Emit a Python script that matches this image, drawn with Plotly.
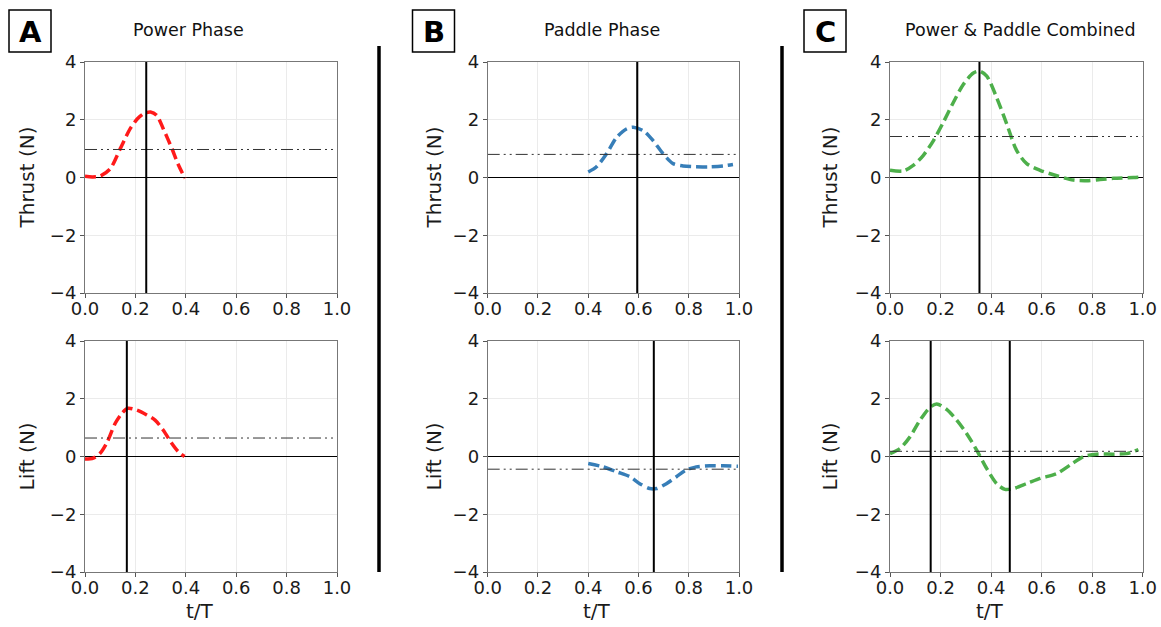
import plotly.graph_objects as go

W, H = 1161, 627

# ---------------- data ----------------
a_thrust_t = [0, 0.03, 0.06, 0.1, 0.14, 0.18, 0.21, 0.235, 0.26, 0.285, 0.31, 0.345, 0.37, 0.397]
a_thrust_v = [0.04, 0.02, 0.05, 0.3, 1.0, 1.7, 2.05, 2.22, 2.27, 2.15, 1.7, 1.0, 0.45, -0.03]
a_lift_t = [0, 0.033, 0.06, 0.086, 0.12, 0.146, 0.17, 0.205, 0.245, 0.278, 0.31, 0.344, 0.37, 0.395]
a_lift_v = [-0.09, -0.06, 0.11, 0.46, 1.15, 1.49, 1.67, 1.61, 1.44, 1.26, 0.92, 0.46, 0.17, 0.0]

b_thrust_t = [0.4, 0.433, 0.473, 0.513, 0.552, 0.579, 0.619, 0.658, 0.698, 0.738, 0.777, 0.83, 0.883, 0.936, 0.976]
b_thrust_v = [0.19, 0.37, 0.82, 1.39, 1.68, 1.74, 1.62, 1.28, 0.82, 0.48, 0.40, 0.37, 0.37, 0.40, 0.45]
b_lift_t = [0.4, 0.46, 0.513, 0.566, 0.605, 0.645, 0.672, 0.711, 0.751, 0.79, 0.83, 0.883, 0.936, 0.996]
b_lift_v = [-0.24, -0.36, -0.53, -0.7, -0.94, -1.11, -1.11, -0.94, -0.7, -0.47, -0.36, -0.32, -0.32, -0.34]

c_thrust_t = [0, 0.053, 0.092, 0.132, 0.172, 0.211, 0.25, 0.29, 0.33, 0.356, 0.383, 0.422, 0.462,
              0.501, 0.541, 0.594, 0.66, 0.726, 0.778, 0.831, 0.884, 0.963, 0.996]
c_thrust_v = [0.25, 0.23, 0.42, 0.77, 1.28, 1.91, 2.59, 3.22, 3.62, 3.68, 3.51, 2.77, 1.85,
              0.94, 0.48, 0.25, 0.06, -0.09, -0.11, -0.07, -0.03, 0.0, 0.02]
c_lift_t = [0, 0.04, 0.079, 0.119, 0.158, 0.185, 0.224, 0.264, 0.303, 0.343, 0.383, 0.422, 0.455,
            0.488, 0.541, 0.594, 0.66, 0.712, 0.765, 0.818, 0.884, 0.937, 0.983]
c_lift_v = [0.1, 0.28, 0.68, 1.26, 1.7, 1.82, 1.63, 1.26, 0.8, 0.22, -0.42, -0.94, -1.14,
            -1.11, -0.94, -0.76, -0.59, -0.3, -0.01, 0.08, 0.08, 0.1, 0.24]

# mean (dash-dot-dot) levels: [thrust, lift] per column
means = {"A": [0.97, 0.64], "B": [0.8, -0.44], "C": [1.42, 0.18]}
# vertical marker positions: [thrust list, lift list] per column
markers = {"A": [[0.243], [0.166]], "B": [[0.595], [0.661]], "C": [[0.354], [0.161, 0.474]]}

panel_letters = ["A", "B", "C"]
panel_titles = ["Power Phase", "Paddle Phase", "Power & Paddle Combined"]
colors = ["#ff1a1a", "#377eb8", "#4daf4a"]
x_ticks = [0.0, 0.2, 0.4, 0.6, 0.8, 1.0]
x_tick_text = ["0.0", "0.2", "0.4", "0.6", "0.8", "1.0"]
y_ticks = [-4, -2, 0, 2, 4]
row_labels = ["Thrust (N)", "Lift (N)"]
x_label = "t/T"

series = {
    "A": [(a_thrust_t, a_thrust_v), (a_lift_t, a_lift_v)],
    "B": [(b_thrust_t, b_thrust_v), (b_lift_t, b_lift_v)],
    "C": [(c_thrust_t, c_thrust_v), (c_lift_t, c_lift_v)],
}

# ---------------- layout geometry (pixels) ----------------
col_px = [(85, 337), (487.7, 739), (890, 1142.7)]
row_px = [(62, 293), (341, 572)]
ytitle_x = [26, 433, 829]
xtitle_x = [200, 597, 990]
letter_cx = [30, 433.5, 825]
title_cx = [188, 602, 1020]


def px_x(p):
    return p / W


def px_y(p):
    return 1 - p / H


fig = go.Figure()
layout = {}
shapes = []
annotations = []

axis_font = dict(family="DejaVu Sans", size=18, color="#1a1a1a")
idx = 0
for ci, letter in enumerate(panel_letters):
    for ri in range(2):
        idx += 1
        xa = "x" if idx == 1 else f"x{idx}"
        ya = "y" if idx == 1 else f"y{idx}"
        xkey = "xaxis" if idx == 1 else f"xaxis{idx}"
        ykey = "yaxis" if idx == 1 else f"yaxis{idx}"
        x0, x1 = col_px[ci]
        y0, y1 = row_px[ri]
        layout[xkey] = dict(
            domain=[px_x(x0), px_x(x1)], range=[0, 1], anchor=ya,
            tickvals=x_ticks, ticktext=x_tick_text, tickfont=axis_font,
            ticks="outside", ticklen=4, tickcolor="#555555", ticklabelstandoff=-5,
            showgrid=True, gridcolor="#ebebeb", gridwidth=1,
            zeroline=False, showline=True, mirror=True, linecolor="#777777", linewidth=1,
            fixedrange=True, automargin=False,
        )
        layout[ykey] = dict(
            domain=[px_y(y1), px_y(y0)], range=[-4, 4], anchor=xa,
            tickvals=y_ticks, tickfont=axis_font,
            ticks="outside", ticklen=4, tickcolor="#555555",
            showgrid=True, gridcolor="#ebebeb", gridwidth=1,
            zeroline=True, zerolinecolor="black", zerolinewidth=1,
            showline=True, mirror=True, linecolor="#777777", linewidth=1,
            fixedrange=True, automargin=False,
        )
        # mean line (dash-dot-dot)
        shapes.append(dict(type="line", xref=xa, yref=ya, x0=0, x1=1,
                           y0=means[letter][ri], y1=means[letter][ri],
                           line=dict(color="#333333", width=1,
                                     dash="12px,4px,2px,4px,2px,4px"), layer="above"))
        # vertical markers
        for mx in markers[letter][ri]:
            shapes.append(dict(type="line", xref=xa, yref=ya, x0=mx, x1=mx, y0=-4, y1=4,
                               line=dict(color="black", width=2), layer="above"))
        t, v = series[letter][ri]
        fig.add_trace(go.Scatter(
            x=t, y=v, mode="lines", xaxis=xa, yaxis=ya, showlegend=False,
            line=dict(color=colors[ci], width=3.5, dash="11px,5px", shape="spline", smoothing=0.8),
        ))
        # y axis title
        annotations.append(dict(text=row_labels[ri], xref="paper", yref="paper",
                                x=px_x(ytitle_x[ci]), y=px_y((y0 + y1) / 2),
                                showarrow=False, textangle=-90,
                                font=dict(family="DejaVu Sans", size=20, color="#1a1a1a"),
                                xanchor="center", yanchor="middle"))
        if ri == 1:
            annotations.append(dict(text=x_label, xref="paper", yref="paper",
                                    x=px_x(xtitle_x[ci]), y=px_y(611),
                                    showarrow=False,
                                    font=dict(family="DejaVu Sans", size=20, color="#1a1a1a"),
                                    xanchor="center", yanchor="middle"))

    # panel letter box
    cx = letter_cx[ci]
    shapes.append(dict(type="rect", xref="paper", yref="paper",
                       x0=px_x(cx - 21), x1=px_x(cx + 21), y0=px_y(52), y1=px_y(10),
                       line=dict(color="black", width=1.5), fillcolor="white"))
    annotations.append(dict(text=f"<b>{letter}</b>", xref="paper", yref="paper",
                            x=px_x(cx), y=px_y(32), showarrow=False,
                            font=dict(family="DejaVu Sans", size=29, color="black"),
                            xanchor="center", yanchor="middle"))
    annotations.append(dict(text=panel_titles[ci], xref="paper", yref="paper",
                            x=px_x(title_cx[ci]), y=px_y(30), showarrow=False,
                            font=dict(family="DejaVu Sans", size=17.5, color="#111111"),
                            xanchor="center", yanchor="middle"))

# separators
for sx in [379, 782]:
    shapes.append(dict(type="line", xref="paper", yref="paper",
                       x0=px_x(sx), x1=px_x(sx), y0=px_y(46), y1=px_y(572),
                       line=dict(color="black", width=3.5)))

fig.update_layout(
    width=W, height=H,
    margin=dict(l=0, r=0, t=0, b=0, pad=0, autoexpand=False),
    paper_bgcolor="white", plot_bgcolor="white",
    shapes=shapes, annotations=annotations, **layout,
)

fig.write_html("out.html", config={"displayModeBar": False})
